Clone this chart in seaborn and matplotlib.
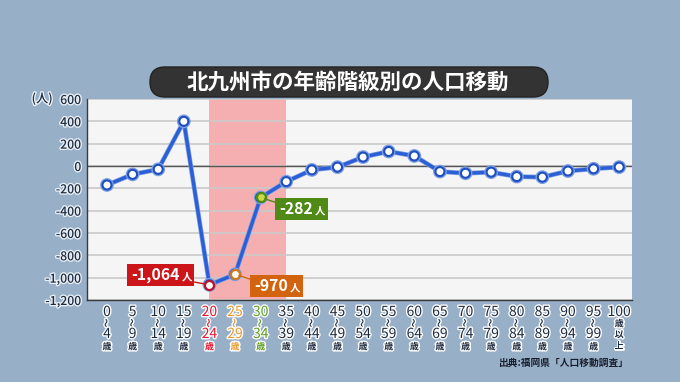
import numpy as np
import pandas as pd
import seaborn as sns
import matplotlib
matplotlib.use("Agg")
import matplotlib.pyplot as plt
import matplotlib.patheffects as pe
from matplotlib.patches import FancyBboxPatch
from matplotlib.path import Path
from matplotlib.transforms import IdentityTransform

# ---- data ----
age_start = [0, 5, 10, 15, 20, 25, 30, 35, 40, 45, 50, 55, 60, 65, 70, 75, 80, 85, 90, 95, 100]
age_end = [4, 9, 14, 19, 24, 29, 34, 39, 44, 49, 54, 59, 64, 69, 74, 79, 84, 89, 94, 99, None]
net_migration = [-170, -75, -30, 400, -1064, -970, -282, -140, -35, -10, 80, 130, 90,
                 -50, -65, -55, -95, -100, -45, -25, -10]
y_ticks = [600, 400, 200, 0, -200, -400, -600, -800, -1000, -1200]
title = "北九州市の年齢階級別の人口移動"
source = "出典:福岡県「人口移動調査」"
callouts = {4: ("-1,064", "#CC1518"), 5: ("-970", "#D2640F"), 6: ("-282", "#4E8A15")}

sns.set_theme(style="white")
plt.rcParams['font.family'] = ['Noto Sans CJK JP', 'DejaVu Sans']

BG = "#98AFC8"
BLUE = "#2C5FD6"
fig = plt.figure(figsize=(6.8, 3.82), dpi=100, facecolor=BG)
ax = fig.add_axes([87 / 680, 1 - 300 / 382, 545 / 680, 201 / 382])
ax.set_facecolor("#F5F5F5")

x = np.arange(len(age_start))
df = pd.DataFrame({"x": x, "v": net_migration})

# highlight band 20-34
ax.axvspan(4, 7, color="#F6AFB1", zorder=0.3, lw=0)
ax.set_axisbelow(True)
ax.grid(axis="y", color="#C9C9C9", lw=1.2)
ax.axhline(0, color="#555555", lw=1, zorder=1)

sns.lineplot(data=df, x="x", y="v", ax=ax, color=BLUE, lw=2.4, marker="o",
             markersize=6.5, markerfacecolor="white", markeredgecolor="#1F4EC0",
             markeredgewidth=1.5, zorder=3,
             path_effects=[pe.Stroke(linewidth=3.4, foreground="#7C9FE2"), pe.Normal()])

special = {4: ("white", "#B5142A"), 5: ("white", "#D27A1E"), 6: ("#C9DA45", "#4E8A15")}
for i, (fc, ec) in special.items():
    sns.lineplot(x=[x[i]], y=[net_migration[i]], ax=ax, marker="o", markersize=6.5,
                 markerfacecolor=fc, markeredgecolor=ec, markeredgewidth=1.6, zorder=4)

ax.set_xlim(-0.78, 20.5)
ax.set_ylim(-1200, 600)
ax.set_yticks(y_ticks)
ax.set_yticklabels([f"{v:,}" for v in y_ticks], fontsize=8.8, color="#1B2A3C",
                   fontweight="medium")
for t in ax.get_yticklabels():
    t.set_path_effects([pe.withStroke(linewidth=2, foreground="#E8EEF5")])
ax.tick_params(axis="y", length=0, pad=4)
ax.set_xticks([])
ax.set_xlabel("")
ax.set_ylabel("")
for s in ["top", "right"]:
    ax.spines[s].set_visible(False)
for s in ["left", "bottom"]:
    ax.spines[s].set_color("#3A3A3A")
    ax.spines[s].set_linewidth(1)

ax.text(-0.063, 1.0, "(人)", transform=ax.transAxes, ha="right", va="center",
        fontsize=8.8, color="#1B2A3C", fontweight="medium",
        path_effects=[pe.withStroke(linewidth=2, foreground="#E8EEF5")])

# x tick labels (multi-line, custom sizes)
tick_colors = {4: "#E2142D", 5: "#E89A2A", 6: "#5C9E1E"}
trans = ax.get_xaxis_transform()
halo = [pe.withStroke(linewidth=2, foreground="white")]
def ya(p):
    return (300 - p) / 201
for i, (a, b) in enumerate(zip(age_start, age_end)):
    col = tick_colors.get(i, "#1C2B3F")
    kw = dict(transform=trans, ha="center", va="center", color=col, path_effects=halo, clip_on=False)
    ax.text(x[i], ya(312), str(a), fontsize=10, **kw)
    if b is not None:
        ax.text(x[i], ya(323), "〜", fontsize=6.5, rotation=90, fontweight="bold", **kw)
        ax.text(x[i], ya(334), str(b), fontsize=10, **kw)
        ax.text(x[i], ya(347), "歳", fontsize=6.5, fontweight="bold", **kw)
    else:
        ax.text(x[i], ya(324), "歳", fontsize=6.5, fontweight="bold", **kw)
        ax.text(x[i], ya(335), "以", fontsize=6.5, fontweight="bold", **kw)
        ax.text(x[i], ya(346), "上", fontsize=6.5, fontweight="bold", **kw)

# callout box: extra room on the right for the small 人
def callout_box(x0, y0, width, height, mutation_size):
    pl, pr, pv = 4, 15, 3
    return Path([(x0 - pl, y0 - pv), (x0 + width + pr, y0 - pv),
                 (x0 + width + pr, y0 + height + pv), (x0 - pl, y0 + height + pv),
                 (x0 - pl, y0 - pv)], closed=True)

# right edge of the number text, offset from the point (pixels)
offsets = {4: (-30, 10), 5: (53, -11.5), 6: (52, -11.5)}
for i, (txt, col) in callouts.items():
    dx, dy = offsets[i]
    ax.annotate(txt, xy=(x[i], net_migration[i]), xytext=(dx, dy),
                textcoords="offset pixels", ha="right", va="center", fontsize=11.4,
                fontweight="bold", color="white", zorder=5,
                bbox=dict(boxstyle=callout_box, fc=col, ec="none"),
                arrowprops=dict(arrowstyle="-", color=col, lw=1, shrinkA=0, shrinkB=3))
    ax.annotate("人", xy=(x[i], net_migration[i]), xytext=(dx + 2, dy - 2),
                textcoords="offset pixels", ha="left", va="center", fontsize=7.5,
                fontweight="bold", color="white", zorder=6)

# title box
fig.add_artist(FancyBboxPatch((150, 285), 398, 30, boxstyle="round,pad=0,rounding_size=15",
                              transform=IdentityTransform(), fc="#333333", ec="#222222", lw=1))
fig.text(348 / 680, 1 - 82 / 382, title, ha="center", va="center", color="white",
         fontsize=15.5, fontweight="bold")

fig.text(628 / 680, 1 - 363 / 382, source, ha="right", va="center", fontsize=7,
         fontweight="bold", color="#1A1F2E")

fig.savefig("out.png", dpi=100, facecolor=BG)
